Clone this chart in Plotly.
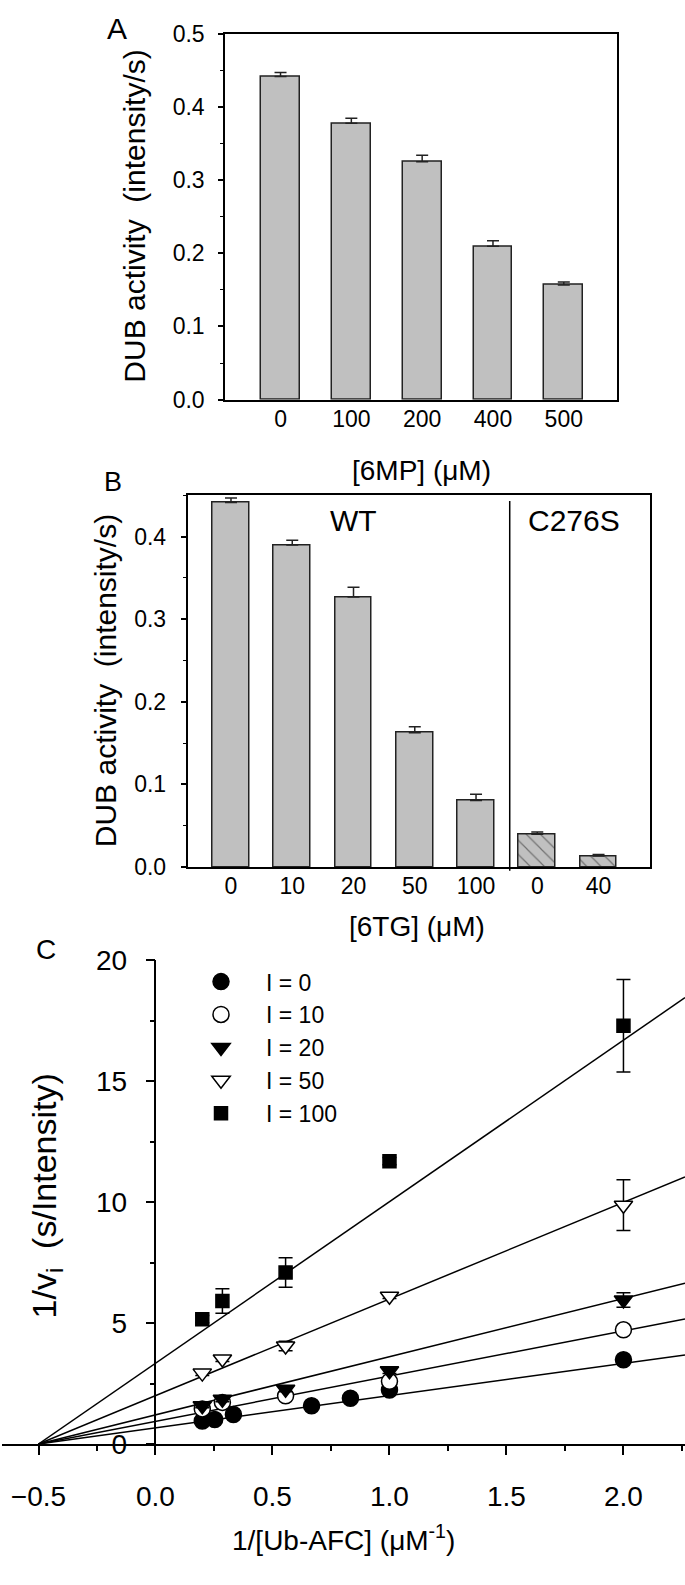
import plotly.graph_objects as go

FONT = "Liberation Sans, Arial, sans-serif"
W, H = 685, 1585

# ---------------- Panel A data ----------------
a_labels = ["0", "100", "200", "400", "500"]
a_values = [0.4415, 0.3777, 0.325, 0.2097, 0.1566]
a_errors = [0.0054, 0.0067, 0.009, 0.0075, 0.004]

# ---------------- Panel B data ----------------
b_labels = ["0", "10", "20", "50", "100", "0", "40"]
b_values = [0.4415, 0.390, 0.327, 0.1627, 0.0804, 0.0397, 0.0133]
b_errors = [0.0055, 0.0056, 0.0117, 0.0073, 0.0076, 0.0028, 0.0019]
b_groups = ["WT", "WT", "WT", "WT", "WT", "C276S", "C276S"]
b_split = 4.55

# ---------------- Panel C data ----------------
c_x0 = [0.2, 0.253, 0.333, 0.667, 0.833, 1.0, 2.0]
c_y0 = [0.95, 1.01, 1.22, 1.58, 1.89, 2.23, 3.48]
c_x = [0.2, 0.286, 0.556, 1.0, 2.0]
c_y10 = [1.45, 1.72, 1.99, 2.59, 4.72]
c_e10 = [0.05, 0.05, 0.08, 0.08, 0.1]
c_y20 = [1.58, 1.85, 2.26, 3.03, 5.95]
c_e20 = [0.08, 0.1, 0.1, 0.12, 0.3]
c_y50 = [2.93, 3.51, 4.05, 6.11, 9.87]
c_e50 = [0.1, 0.1, 0.2, 0.1, 1.05]
c_y100 = [5.16, 5.91, 7.09, 11.69, 17.29]
c_e100 = [0.15, 0.51, 0.61, 0.15, 1.91]
fit_x = [-0.5, 2.263]
fit_y = {
    "I = 0": [0, 3.68],
    "I = 10": [0, 5.17],
    "I = 20": [0, 6.65],
    "I = 50": [0, 11.04],
    "I = 100": [0, 18.45],
}

def fx(px):
    return px / W

def fy(py):
    return 1 - py / H

fig = go.Figure()

GRAY = "#c0c0c0"
EDGE = "#222222"

# Panel A bars
fig.add_trace(go.Bar(
    x=list(range(len(a_values))), y=a_values, width=0.55,
    marker=dict(color=GRAY, line=dict(color=EDGE, width=1.5)),
    error_y=dict(type="data", array=a_errors, symmetric=False, arrayminus=[0]*len(a_errors),
                 color=EDGE, thickness=1.5, width=6),
    xaxis="x", yaxis="y", showlegend=False,
))

# Panel B bars
b_x = list(range(len(b_values)))
fill_shapes = ["" if g == "WT" else "\\" for g in b_groups]
fig.add_trace(go.Bar(
    x=b_x, y=b_values, width=0.6,
    marker=dict(color=GRAY, line=dict(color=EDGE, width=1.5),
                pattern=dict(shape=fill_shapes, fgcolor="#222222", bgcolor=GRAY,
                             size=10, solidity=0.12)),
    error_y=dict(type="data", array=b_errors, symmetric=False, arrayminus=[0]*len(b_errors),
                 color=EDGE, thickness=1.5, width=6),
    xaxis="x2", yaxis="y2", showlegend=False,
))

# Panel C fit lines
for name, ys in fit_y.items():
    fig.add_trace(go.Scatter(x=fit_x, y=ys, mode="lines",
                             line=dict(color="black", width=1.5),
                             xaxis="x3", yaxis="y3", showlegend=False, hoverinfo="skip"))

series = [
    ("I = 0", c_x0, c_y0, None, "circle", "black", 16),
    ("I = 10", c_x, c_y10, c_e10, "circle", "white", 16),
    ("I = 20", c_x, c_y20, c_e20, "triangle-down", "black", 16),
    ("I = 50", c_x, c_y50, c_e50, "triangle-down", "white", 16),
    ("I = 100", c_x, c_y100, c_e100, "square", "black", 13),
]
for name, xs, ys, es, sym, col, sz in series:
    kw = {}
    if es is not None:
        kw["error_y"] = dict(type="data", array=es, color="black", thickness=1.5, width=7)
    fig.add_trace(go.Scatter(
        x=xs, y=ys, mode="markers", name=name, legendgroup=name,
        marker=dict(symbol=sym, size=sz, color=col, line=dict(color="black", width=1.5)),
        xaxis="x3", yaxis="y3", **kw,
    ))

tickfont_ab = dict(family=FONT, size=23, color="black")
tickfont_c = dict(family=FONT, size=28, color="black")

# domains (pixel based)
a_x0, a_x1, a_yb, a_yt = 225, 616.7, 392.3, 19
b_x0, b_x1, b_yb, b_yt = 187.5, 650, 869, 490
c_x0p, c_x1p, c_yb, c_yt = 2, 685, 1457.5, 964
c_xmin, c_xmax = -0.656, 2.263
c_axis_pos = fx(c_x0p + (0 - c_xmin) / (c_xmax - c_xmin) * (c_x1p - c_x0p))

fig.update_layout(
    width=W, height=H, margin=dict(l=0, r=0, t=0, b=0),
    paper_bgcolor="white", plot_bgcolor="white",
    font=dict(family=FONT, color="black"),
    bargap=0,
    xaxis=dict(domain=[fx(a_x0), fx(a_x1)], anchor="y", range=[-0.784, 4.747],
               tickvals=list(range(len(a_labels))), ticktext=a_labels, ticks="",
               showline=True, mirror=True, linecolor="black", linewidth=1.5,
               showgrid=False, zeroline=False, tickfont=tickfont_ab, ticklabelstandoff=-2),
    yaxis=dict(domain=[fy(a_yb), fy(a_yt)], anchor="x", range=[0, 0.5],
               dtick=0.1, tick0=0, tickformat=".1f", ticks="outside", ticklen=5,
               tickwidth=1.5, tickcolor="black",
               minor=dict(dtick=0.05, ticks="outside", ticklen=3, tickwidth=1.2, tickcolor="black"),
               showline=True, mirror=True, linecolor="black", linewidth=1.5,
               showgrid=False, zeroline=False, tickfont=tickfont_ab, ticklabelstandoff=9),
    xaxis2=dict(domain=[fx(b_x0), fx(b_x1)], anchor="y2", range=[-0.71, 6.84],
                tickvals=b_x, ticktext=b_labels, ticks="",
                showline=True, mirror=True, linecolor="black", linewidth=1.5,
                showgrid=False, zeroline=False, tickfont=tickfont_ab, ticklabelstandoff=-2),
    yaxis2=dict(domain=[fy(b_yb), fy(b_yt)], anchor="x2", range=[0, 0.45],
                dtick=0.1, tick0=0, tickformat=".1f", ticks="outside", ticklen=5,
                tickwidth=1.5, tickcolor="black",
                minor=dict(dtick=0.05, ticks="outside", ticklen=3, tickwidth=1.2, tickcolor="black"),
                showline=True, mirror=True, linecolor="black", linewidth=1.5,
                showgrid=False, zeroline=False, tickfont=tickfont_ab, ticklabelstandoff=10),
    xaxis3=dict(domain=[fx(c_x0p), fx(c_x1p)], anchor="y3", range=[c_xmin, c_xmax],
                dtick=0.5, tick0=-0.5, tickformat=".1f", ticks="outside", ticklen=9,
                tickwidth=1.5, tickcolor="black",
                minor=dict(dtick=0.25, tick0=-0.5, ticks="outside", ticklen=5, tickwidth=1.5, tickcolor="black"),
                showline=True, linecolor="black", linewidth=1.5,
                showgrid=False, zeroline=False, tickfont=tickfont_c, ticklabelstandoff=18),
    yaxis3=dict(domain=[fy(c_yb), fy(c_yt)], anchor="free", position=c_axis_pos,
                range=[0, 20], dtick=5, tick0=0, ticks="outside", ticklen=9,
                tickwidth=1.5, tickcolor="black",
                minor=dict(dtick=2.5, ticks="outside", ticklen=5, tickwidth=1.5, tickcolor="black"),
                showline=True, linecolor="black", linewidth=1.5,
                showgrid=False, zeroline=False, tickfont=tickfont_c, ticklabelstandoff=13),
    legend=dict(x=fx(176), y=fy(964), xanchor="left", yanchor="top",
                font=dict(family=FONT, size=23, color="black"),
                bgcolor="rgba(0,0,0,0)", itemwidth=80, tracegroupgap=0,
                traceorder="grouped"),
    shapes=[dict(type="line", xref="x2", yref="y2 domain", x0=b_split, x1=b_split,
                 y0=-0.01, y1=0.985, line=dict(color="black", width=1.5))],
)

ann = []
def add_text(text, x, y, size, angle=0, xref="paper", yref="paper"):
    ann.append(dict(text=text, x=x, y=y, xref=xref, yref=yref, showarrow=False,
                    textangle=angle, xanchor="center", yanchor="middle",
                    font=dict(family=FONT, size=size, color="black")))

add_text("A", fx(117), fy(14), 30)
add_text("B", fx(113), fy(476), 27)
add_text("C", fx(46), fy(953), 28)
add_text("DUB activity\u00a0 (intensity/s)", fx(135), fy(205.7), 30, -90)
add_text("DUB activity\u00a0 (intensity/s)", fx(105), fy(679.5), 30, -90)
add_text("1/v<sub>i</sub>\u00a0 (s/Intensity)", fx(46), fy(1205), 34, -90)
add_text("[6MP] (\u03bcM)", fx(421.7), fy(465), 28)
add_text("[6TG] (\u03bcM)", fx(416.7), fy(930), 28)
add_text("1/[Ub-AFC] (\u03bcM<sup>-1</sup>)", fx(343), fy(1553), 28)
add_text("WT", 2, 0.42, 30, xref="x2", yref="y2")
add_text("C276S", 5.6, 0.42, 30, xref="x2", yref="y2")
fig.update_layout(annotations=ann)

fig.write_html("out.html",
               config={"displayModeBar": False},
               post_script="document.body.style.margin='0';document.body.style.padding='0';")
